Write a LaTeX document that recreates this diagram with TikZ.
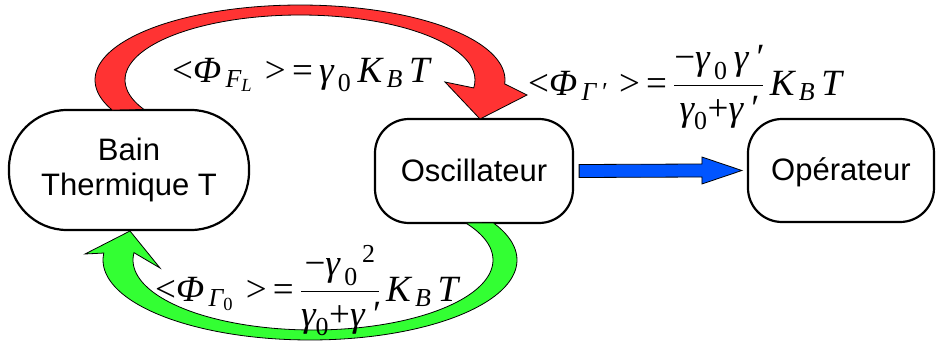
\RequirePackage{fix-cm}
\documentclass[tikz,border=0pt]{standalone}
\usepackage{amsmath}
\usepackage{fontspec}
\setmainfont{Liberation Sans}
\newfontfamily\tms{Liberation Serif}
\newcommand\mt[1]{\text{\tms\itshape #1}}
\newcommand\mr[1]{\text{\tms\upshape #1}}
\usetikzlibrary{calc}
\definecolor{redA}{RGB}{255,51,51}
\definecolor{greenA}{RGB}{51,255,51}
\definecolor{blueA}{RGB}{0,85,255}
\begin{document}
\begin{tikzpicture}[x=1pt,y=-1pt,
  box/.style={draw, line width=2.2pt, align=center, inner sep=0pt,
    font=\fontsize{31}{36}\selectfont},
  onel/.style={text height=25pt, text depth=5pt},
  blk/.style={draw=black, line width=0.8pt, line join=miter},
  lbl/.style={inner sep=0pt, anchor=base west, font=\fontsize{37}{42}\selectfont}]
\useasboundingbox (0,0) rectangle (940,348);
% boxes
\node[box, minimum width=240pt, minimum height=120pt, rounded corners=58pt] (bain) at (129,170) {Bain\\[-1pt]Thermique T};
\node[box, onel, minimum width=198pt, minimum height=104pt, rounded corners=34pt] (osc) at (474,171) {Oscillateur};
\node[box, onel, minimum width=186pt, minimum height=103pt, rounded corners=34pt] (op) at (841,170.5) {Opérateur};
% red curved arrow
\draw[blk, fill=redA]
  plot[domain=156.4:363, samples=60, smooth] ({300+205*cos(\x)}, {80+75*sin(\x)})
  -- (527,95) -- (480,119) -- (445,82)
  -- plot[domain=367:153, samples=60, smooth] ({300+175*cos(\x)}, {80+65*sin(\x)})
  -- cycle;
% green curved arrow
\draw[blk, fill=greenA]
  plot[domain=-27.5:185, samples=60, smooth] ({310+207*cos(\x)}, {260+80*sin(\x)})
  -- (85,254) -- (130,231) -- (160,268)
  -- plot[domain=186:-32, samples=60, smooth] ({313+180*cos(\x)}, {260+70*sin(\x)})
  -- cycle;
% blue arrow
\draw[blk, fill=blueA]
  ($(osc.east)+(5,-6.5)$) -- ($(op.west)+(-45,-6.5)$) -- ($(op.west)+(-45,-13.5)$)
  -- ($(op.west)+(-5,0)$) -- ($(op.west)+(-45,13.5)$) -- ($(op.west)+(-45,6.5)$)
  -- ($(osc.east)+(5,6.5)$) -- cycle;
% labels
\node[lbl] (l1) at (172,82) {$\mr{<}\mt{Φ}_{\,\mt{F}_{\mt{L}}}\mr{\,\,>\,=\,}\mt{γ}_{\,\mr{0}}\,\mt{K}_{\,\mt{B}}\,\mt{T}$};
\node[lbl] (l2) at (528,95) {$\mr{<}\mt{Φ}_{\,\mt{Γ}\,\mt{′}}\mr{\,\,>\,=\,}\dfrac{\mr{−}\mt{γ}_{\,\mr{0}}\,\mt{γ}\,\mt{′}}{\mt{γ}_{\mr{0}}\mr{+}\mt{γ}\,\mt{′}}\,\mt{K}_{\,\mt{B}}\,\mt{T}$};
\node[lbl] (l3) at (155,301) {$\mr{<}\mt{Φ}_{\,\mt{Γ}_{\mr{0}}}\mr{\,\,>\,=\,}\dfrac{\mr{−}{\mt{γ}_{\,\mr{0}}}^{\,\mr{2}}}{\mt{γ}_{\mr{0}}\mr{+}\mt{γ}\,\mt{′}}\,\mt{K}_{\,\mt{B}}\,\mt{T}$};
\end{tikzpicture}
\end{document}
